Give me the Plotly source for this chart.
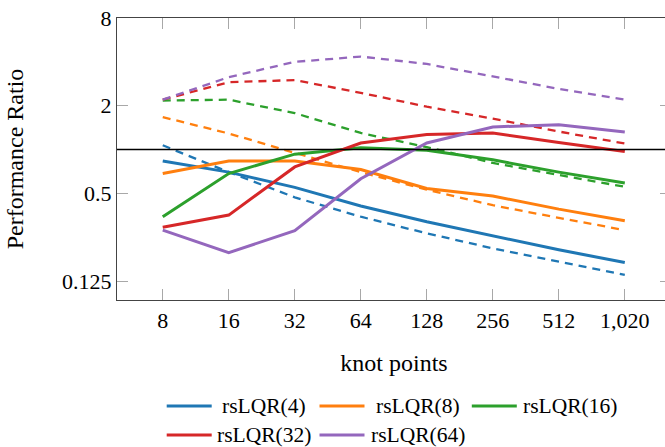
import numpy as np
import plotly.graph_objects as go

# knot points (x) and tick labels
knots = [8, 16, 32, 64, 128, 256, 512, 1024]
x_tick_text = ["8", "16", "32", "64", "128", "256", "512", "1,020"]
y_tick_vals = [0.125, 0.5, 2, 8]
y_tick_text = ["0.125", "0.5", "2", "8"]

series_names = ["rsLQR(4)", "rsLQR(8)", "rsLQR(16)", "rsLQR(32)", "rsLQR(64)"]
colors = ["#1f77b4", "#ff7f0e", "#2ca02c", "#d62728", "#9467bd"]

# measured performance ratio (solid)
ratio_4 = [0.835, 0.70, 0.55, 0.41, 0.32, 0.255, 0.205, 0.168]
ratio_8 = [0.685, 0.835, 0.835, 0.73, 0.54, 0.48, 0.39, 0.325]
ratio_16 = [0.346, 0.685, 0.93, 1.03, 0.99, 0.85, 0.70, 0.59]
ratio_32 = [0.293, 0.355, 0.76, 1.11, 1.27, 1.30, 1.12, 0.97]
ratio_64 = [0.28, 0.196, 0.278, 0.63, 1.11, 1.43, 1.48, 1.32]

# predicted performance ratio (dashed)
pred_4 = [1.07, 0.70, 0.47, 0.346, 0.266, 0.21, 0.17, 0.138]
pred_8 = [1.67, 1.29, 0.95, 0.70, 0.53, 0.415, 0.34, 0.28]
pred_16 = [2.17, 2.2, 1.78, 1.30, 1.04, 0.81, 0.67, 0.555]
pred_32 = [2.2, 2.9, 3.0, 2.45, 1.97, 1.63, 1.33, 1.1]
pred_64 = [2.2, 3.14, 4.0, 4.35, 3.87, 3.17, 2.61, 2.2]

solid = [ratio_4, ratio_8, ratio_16, ratio_32, ratio_64]
dashed = [pred_4, pred_8, pred_16, pred_32, pred_64]

FONT = "Liberation Serif, Times New Roman, serif"
W, H = 672, 447
L, R, T, B = 117, 1, 18, 147
PW, PH = W - L - R, H - T - B

fig = go.Figure()
for name, c, ys in zip(series_names, colors, dashed):
    fig.add_trace(go.Scatter(x=knots, y=ys, mode="lines", showlegend=False,
                             line=dict(color=c, width=2.3, dash="8px,6px")))
for name, c, ys in zip(series_names, colors, solid):
    fig.add_trace(go.Scatter(x=knots, y=ys, mode="lines", name=name, showlegend=False,
                             line=dict(color=c, width=3)))

fig.add_hline(y=1, line=dict(color="black", width=1.4))

log2_to_log10 = np.log10(2)
fig.update_xaxes(type="log", range=[2.307 * log2_to_log10, 10.70 * log2_to_log10],
                 tickvals=knots, ticktext=x_tick_text,
                 ticks="inside", ticklen=11, tickcolor="#a8a8a8", tickwidth=1.2,
                 showline=True, linecolor="#444444", linewidth=1.3, mirror="ticks",
                 showgrid=False, zeroline=False, automargin=False,
                 tickfont=dict(family=FONT, size=22, color="black"),
                 title=dict(text="knot points", standoff=22,
                            font=dict(family=FONT, size=24, color="black")))
fig.update_yaxes(type="log", range=[-3.43 * log2_to_log10, 3.0 * log2_to_log10],
                 tickvals=y_tick_vals, ticktext=y_tick_text,
                 ticks="inside", ticklen=11, tickcolor="#a8a8a8", tickwidth=1.2,
                 showline=True, linecolor="#444444", linewidth=1.3, mirror="ticks",
                 showgrid=False, zeroline=False, automargin=False,
                 tickfont=dict(family=FONT, size=22, color="black"),
                 title=dict(text="Performance Ratio", standoff=31,
                            font=dict(family=FONT, size=24, color="black")))

# legend: three columns, two rows
def px_to_paper(px, py):
    return (px - L) / PW, (H - B - py) / PH

col_line_x = [166.7, 319.5, 471.8]
col_text_x = [264, 418, 570]
row_y = [406, 435]
for i, (name, c) in enumerate(zip(series_names, colors)):
    r, k = divmod(i, 3)
    x0, y0 = px_to_paper(col_line_x[k], row_y[r])
    x1, _ = px_to_paper(col_line_x[k] + 45, row_y[r])
    fig.add_shape(type="line", xref="paper", yref="paper", x0=x0, x1=x1, y0=y0, y1=y0,
                  line=dict(color=c, width=3))
    tx, ty = px_to_paper(col_text_x[k], row_y[r])
    fig.add_annotation(xref="paper", yref="paper", x=tx, y=ty, text=name,
                       showarrow=False, xanchor="center", yanchor="middle",
                       font=dict(family=FONT, size=21.5, color="black"))

fig.update_layout(width=W, height=H, margin=dict(l=L, r=R, t=T, b=B),
                  paper_bgcolor="white", plot_bgcolor="white", showlegend=False,
                  font=dict(family=FONT))

fig.write_html("out.html",
               post_script="document.documentElement.style.overflow='hidden';"
                           "document.body.style.overflow='hidden';"
                           "document.body.style.margin='0';")
